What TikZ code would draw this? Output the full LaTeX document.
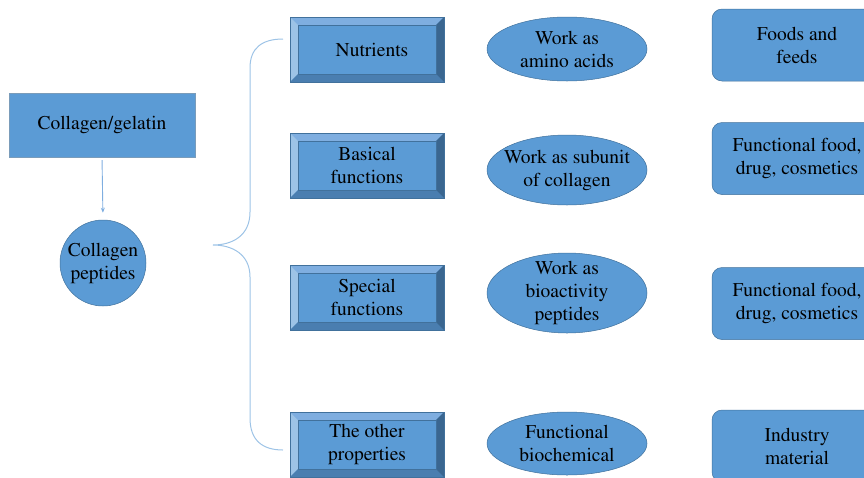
\documentclass[tikz,border=0pt]{standalone}
\usepackage[T1]{fontenc}
\usepackage{times}
\usepackage{tikz}
\usetikzlibrary{arrows.meta,shapes.geometric,positioning,calc}
\definecolor{boxblue}{HTML}{5B9BD5}
\definecolor{edgeblue}{HTML}{41719C}
\definecolor{bevlight}{HTML}{9DC3E6}
\definecolor{bevtop}{HTML}{7FAEE0}
\definecolor{bevlow}{HTML}{4A7EB0}
\definecolor{bevdark}{HTML}{3A6690}
\definecolor{bracecol}{HTML}{9DC3E6}
\definecolor{arrowcol}{HTML}{7FAEE0}

\begin{document}
\begin{tikzpicture}[
    x=1pt, y=-1pt,
    every node/.style={font=\fontsize{19.5}{23}\selectfont, align=center, text=black},
    plainbox/.style={rectangle, fill=boxblue, draw=edgeblue!70, line width=0.4pt, minimum width=186pt, minimum height=64pt},
    roundnode/.style={circle, fill=boxblue, draw=edgeblue, line width=0.5pt, minimum size=86pt, inner sep=0pt},
    bevelbox/.style={rectangle, fill=boxblue, draw=edgeblue, line width=0.4pt, minimum width=154pt, minimum height=65pt,
        path picture={
            \coordinate (nw) at (path picture bounding box.north west);
            \coordinate (ne) at (path picture bounding box.north east);
            \coordinate (sw) at (path picture bounding box.south west);
            \coordinate (se) at (path picture bounding box.south east);
            \coordinate (inw) at ([shift={(8pt,-8pt)}]nw);
            \coordinate (ine) at ([shift={(-8pt,-8pt)}]ne);
            \coordinate (isw) at ([shift={(8pt,8pt)}]sw);
            \coordinate (ise) at ([shift={(-8pt,8pt)}]se);
            \fill[bevtop]   (nw) -- (ne) -- (ine) -- (inw) -- cycle;
            \fill[bevlight] (nw) -- (inw) -- (isw) -- (sw) -- cycle;
            \fill[bevlow]   (sw) -- (isw) -- (ise) -- (se) -- cycle;
            \fill[bevdark]  (se) -- (ise) -- (ine) -- (ne) -- cycle;
            \draw[edgeblue, line width=0.3pt] (inw) -- (ine) -- (ise) -- (isw) -- cycle;
        }},
    ovalnode/.style={ellipse, fill=boxblue, draw=edgeblue, line width=0.5pt, minimum width=160pt, minimum height=64pt, inner sep=0pt},
    usebox/.style={rectangle, rounded corners=10pt, fill=boxblue, draw=edgeblue, line width=0.5pt, minimum width=170pt, minimum height=72pt},
    ]
    \useasboundingbox (0,0) rectangle (864,477);

    %Nodes
    \node[plainbox]  (gel)  at (102,125)   {Collagen/gelatin};
    \node[roundnode] (pep)  at (103,263)   {Collagen\\peptides};

    \node[bevelbox]  (nut)  at (367,49.5)  {\hspace*{10pt}Nutrients};
    \node[bevelbox]  (bas)  at (367,165.5) {Basical\\functions};
    \node[bevelbox]  (spe)  at (367,297.5) {Special\\functions};
    \node[bevelbox]  (oth)  at (367,444.5) {The other\\properties};

    \node[ovalnode]  (amino) at (567,49)  {Work as\\amino acids};
    \node[ovalnode, minimum height=70pt, inner xsep=-8pt] (subunit) at (567,170) {Work as subunit\\of collagen};
    \node[ovalnode, minimum height=80pt, inner ysep=-4pt] (bioact)  at (567,293) {Work as\\bioactivity\\peptides};
    \node[ovalnode, minimum height=63pt] (biochem) at (567,443.5) {Functional\\biochemical};

    \node[usebox] (food)  at (797,45)    {Foods and\\feeds};
    \node[usebox] (drug1) at (797,158.5) {Functional food,\\drug, cosmetics};
    \node[usebox] (drug2) at (797,303.5) {Functional food,\\drug, cosmetics};
    \node[usebox] (indus) at (797,446)   {Industry\\material};

    % Brace points
    \coordinate (tip)   at (213,245);
    \coordinate (btop)  at (283,39);
    \coordinate (bbot)  at (283,450);

    %Lines
    \draw[arrowcol, line width=0.9pt, -{Stealth[length=5pt,width=4pt]}, shorten <=3pt, shorten >=7pt] (gel.south) -- (pep.north);
    \draw[bracecol, line width=1pt] (btop) .. controls (262,39) and (250,48) .. (250,68) -- (250,212)
        .. controls (250,236) and (232,245) .. (tip)
        .. controls (232,245) and (250,254) .. (250,277) -- (250,418)
        .. controls (250,440) and (262,450) .. (bbot);
\end{tikzpicture}
\end{document}
